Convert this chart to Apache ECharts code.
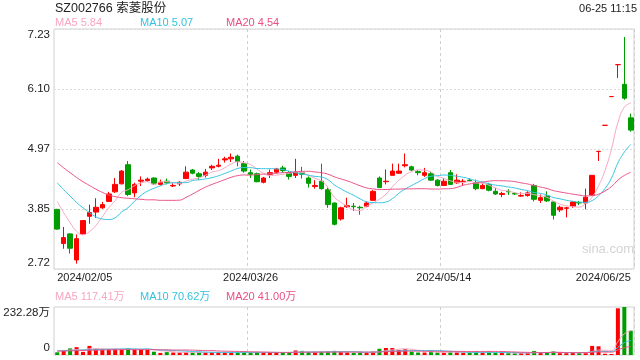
<!DOCTYPE html>
<html><head><meta charset="utf-8">
<script src="https://cdn.jsdelivr.net/npm/echarts@6/dist/echarts.min.js"></script>
<style>html,body{margin:0;padding:0;background:#fff}#c{width:640px;height:360px}</style>
</head><body><div id="c"></div>
<script>
const dates = ['02/05','02/06','02/07','02/08','02/19','02/20','02/21','02/22','02/23','02/26','02/27','02/28','02/29',
'03/01','03/04','03/05','03/06','03/07','03/08','03/11','03/12','03/13','03/14','03/15','03/18','03/19','03/20','03/21','03/22','03/25','03/26','03/27','03/28','03/29',
'04/01','04/02','04/03','04/08','04/09','04/10','04/11','04/12','04/15','04/16','04/17','04/18','04/19','04/22','04/23','04/24','04/25','04/26','04/29','04/30',
'05/06','05/07','05/08','05/09','05/10','05/13','05/14','05/15','05/16','05/17','05/20','05/21','05/22','05/23','05/24','05/27','05/28','05/29','05/30','05/31',
'06/03','06/04','06/05','06/06','06/07','06/11','06/12','06/13','06/14','06/17','06/18','06/19','06/20','06/21','06/24','06/25'];
const opens  = [3.84,3.20,3.38,2.89,3.38,3.71,3.79,3.87,3.99,4.17,4.32,4.68,4.15,4.37,4.38,4.43,4.31,4.37,4.28,4.32,
4.42,4.58,4.51,4.48,4.62,4.65,4.77,4.79,4.84,4.70,4.53,4.51,4.35,4.50,4.54,4.62,4.53,4.48,4.53,4.43,
4.27,4.37,4.21,3.96,3.66,3.89,3.90,3.88,3.90,4.01,4.43,4.36,4.48,4.52,4.66,4.64,4.55,4.48,4.51,4.39,
4.29,4.53,4.34,4.36,4.39,4.34,4.23,4.31,4.18,4.12,4.18,4.14,4.09,4.10,4.29,4.01,4.09,3.98,3.83,3.86,
3.90,3.97,3.96,4.11,4.93,5.42,5.96,6.56,6.19,5.56];
const closes = [3.47,3.31,3.11,3.29,3.63,3.78,3.88,3.93,4.13,4.31,4.56,4.12,4.31,4.39,4.41,4.32,4.35,4.34,4.29,4.35,
4.54,4.52,4.46,4.54,4.65,4.67,4.79,4.82,4.74,4.56,4.50,4.36,4.43,4.53,4.60,4.57,4.46,4.54,4.50,4.33,
4.29,4.23,3.93,3.56,3.87,3.91,3.89,3.87,3.96,4.18,4.25,4.37,4.56,4.56,4.68,4.58,4.53,4.53,4.39,4.29,
4.37,4.31,4.39,4.37,4.38,4.23,4.29,4.20,4.13,4.14,4.17,4.13,4.10,4.15,4.03,4.06,4.00,3.73,3.88,3.87,
3.98,3.96,4.07,4.48,4.93,5.42,5.96,6.56,5.93,5.33];
const lows   = [3.46,3.10,3.01,2.82,3.36,3.57,3.68,3.85,3.98,4.15,4.31,4.09,4.07,4.28,4.36,4.30,4.29,4.31,4.26,4.28,
4.41,4.50,4.39,4.44,4.58,4.63,4.72,4.73,4.65,4.53,4.43,4.35,4.33,4.43,4.52,4.53,4.40,4.43,4.42,4.25,
4.23,4.21,3.87,3.54,3.63,3.87,3.81,3.74,3.88,4.00,4.24,4.31,4.48,4.51,4.63,4.56,4.48,4.45,4.38,4.27,
4.28,4.30,4.32,4.30,4.36,4.20,4.22,4.18,4.11,4.07,4.11,4.11,4.08,4.08,3.99,3.96,3.98,3.65,3.79,3.69,
3.87,3.92,3.84,4.10,4.75,5.42,5.96,6.31,5.90,5.30];
const highs  = [3.85,3.51,3.39,3.37,3.64,3.93,4.05,3.98,4.17,4.43,4.58,4.75,4.34,4.46,4.44,4.44,4.40,4.42,4.33,4.37,
4.65,4.60,4.54,4.60,4.68,4.79,4.83,4.89,4.87,4.75,4.59,4.53,4.45,4.59,4.62,4.66,4.56,4.79,4.64,4.46,
4.39,4.70,4.25,3.97,3.89,4.06,3.96,3.91,3.99,4.20,4.46,4.59,4.70,4.70,4.89,4.66,4.58,4.62,4.55,4.41,
4.43,4.58,4.50,4.41,4.42,4.40,4.33,4.34,4.24,4.17,4.22,4.16,4.16,4.18,4.32,4.12,4.18,3.99,3.91,3.89,
3.99,4.00,4.23,4.48,4.93,5.42,5.96,6.56,7.08,5.64];
// volume, in 万 shares
const volumes = [13,24,32,38,15,44,30,27,28,28,27,32,26,27,26,16,10,14,12,12,
14,12,13,12,12,13,12,12,13,14,12,14,12,12,12,11,12,22,20,14,
12,16,18,20,14,12,10,12,10,16,30,34,34,24,28,16,12,12,14,12,
11,16,14,11,12,14,12,13,11,10,9,8,9,10,19,11,12,18,9,8.8,
10,9,14,44,42.15,6,5,226,232.28,117.77];
// moving-average values before a full window exists
const ma5Early  = [3.99,3.78,3.59,3.43];
const ma10Early = [4.34,4.21,4.09,3.97,3.87,3.78,3.70,3.66,3.65];
const ma20Early = [4.72,4.62,4.53,4.44,4.36,4.29,4.22,4.16,4.11,4.08,4.06,4.05,4.04,4.03,4.02,4.02,4.01,4.01,4.01];
const volMa5Early  = [22,22,24,26];
const volMa10Early = [20,21,22,23,24,25,26,27,28];
const volMa20Early = [18,19,20,21,22,23,23,24,25,25,26,26,26,26,26,26,25,25,24];
const priceTicks = ['2.72','3.85','4.97','6.10','7.23'];
const volTicks = ['0','232.28万'];
const xLabelIdx = [0,30,60,89];
const xSplitIdx = [30,60];
const legendPrice = ['MA5 5.84','MA10 5.07','MA20 4.54'];
const legendVol = ['MA5 117.41万','MA10 70.62万','MA20 41.00万'];

const RED = '#ff0000', GREEN = '#009d00';
const C5 = '#f7a6c2', C10 = '#33c3e0', C20 = '#ea4f85';
const FONT = "Arial, 'Liberation Sans', 'Noto Sans CJK SC', sans-serif";

function ma(arr, n, early) {
  return arr.map((_, i) => {
    if (i < n - 1) return early[i];
    let s = 0; for (let k = i - n + 1; k <= i; k++) s += arr[k];
    return +(s / n).toFixed(3);
  });
}
const kData = opens.map((o, i) => [o, closes[i], lows[i], highs[i]]);
const volData = volumes.map((v, i) => {
  const up = closes[i] > opens[i] || (closes[i] === opens[i] && (i === 0 || closes[i] >= closes[i - 1]));
  return { value: v, itemStyle: { color: up ? RED : GREEN } };
});

const chart = echarts.init(document.getElementById('c'), null, { renderer: 'canvas' });
const lineS = (name, data, color, xi, yi) => ({
  name, type: 'line', data, xAxisIndex: xi, yAxisIndex: yi, smooth: true, showSymbol: false, symbol: 'none',
  lineStyle: { width: 1, color }, z: 3, silent: true, animation: false
});
const xCommon = {
  type: 'category', data: dates, boundaryGap: true,
  axisLine: { show: false }, axisTick: { show: false },
  splitLine: { show: true, interval: (i) => xSplitIdx.includes(i), lineStyle: { type: [3, 3], color: '#cfcfcf' } }
};
chart.setOption({
  animation: false,
  textStyle: { fontFamily: FONT },
  grid: [
    { left: 54, top: 29, width: 580, height: 240, show: true, borderColor: '#d0d0d0', borderWidth: 1, backgroundColor: 'transparent', containLabel: false, outerBoundsMode: 'none' },
    { left: 54, top: 307, width: 580, height: 48, show: true, borderColor: '#d0d0d0', borderWidth: 1, backgroundColor: 'transparent', containLabel: false, outerBoundsMode: 'none' }
  ],
  xAxis: [
    Object.assign({}, xCommon, { gridIndex: 0,
      axisLabel: { show: true, interval: (i) => xLabelIdx.includes(i), formatter: (v) => '2024/' + v,
        fontSize: 11, color: '#222', margin: 3, fontFamily: FONT, alignMinLabel: 'left', alignMaxLabel: 'right' } }),
    Object.assign({}, xCommon, { gridIndex: 1, axisLabel: { show: false } })
  ],
  yAxis: [
    { gridIndex: 0, type: 'value', min: 2.72, max: 7.23, position: 'left', axisLabel: { show: false }, splitLine: { show: false }, axisLine: { show: false }, axisTick: { show: false } },
    { gridIndex: 0, type: 'value', min: 0, max: 4, interval: 1, position: 'left', axisLine: { show: false }, axisTick: { show: false },
      splitLine: { show: true, lineStyle: { type: [2, 2], color: '#dcdcdc' } },
      axisLabel: { margin: 4, color: '#222', fontSize: 11.5, fontFamily: FONT,
        formatter: (v) => v === 4 ? '{t|' + priceTicks[v] + '}' : v === 0 ? '{b|' + priceTicks[v] + '}' : priceTicks[v],
        rich: { t: { padding: [11, 0, 0, 0], fontSize: 11.5, color: '#222', fontFamily: FONT },
                b: { padding: [0, 0, 12, 0], fontSize: 11.5, color: '#222', fontFamily: FONT } } } },
    { gridIndex: 1, type: 'value', min: 0, max: 232.28, interval: 232.28, position: 'left', axisLine: { show: false }, axisTick: { show: false },
      splitLine: { show: false },
      axisLabel: { margin: 4, color: '#222', fontSize: 11.5, fontFamily: FONT,
        formatter: (v) => v === 0 ? '{b|' + volTicks[0] + '}' : '{t|' + volTicks[1] + '}',
        rich: { t: { padding: [11, 0, 0, 0], fontSize: 11.5, color: '#222', fontFamily: FONT },
                b: { padding: [0, 0, 14, 0], fontSize: 11.5, color: '#222', fontFamily: FONT } } } }
  ],
  series: [
    { type: 'candlestick', data: kData, xAxisIndex: 0, yAxisIndex: 0, barWidth: 5, z: 2,
      itemStyle: { color: RED, color0: GREEN, borderColor: RED, borderColor0: GREEN, borderColorDoji: RED, borderWidth: 1 } },
    lineS('MA5', ma(closes, 5, ma5Early), C5, 0, 0),
    lineS('MA10', ma(closes, 10, ma10Early), C10, 0, 0),
    lineS('MA20', ma(closes, 20, ma20Early), C20, 0, 0),
    { type: 'bar', data: volData, xAxisIndex: 1, yAxisIndex: 2, barWidth: 4, z: 2 },
    lineS('VMA5', ma(volumes, 5, volMa5Early), C5, 1, 2),
    lineS('VMA10', ma(volumes, 10, volMa10Early), C10, 1, 2),
    lineS('VMA20', ma(volumes, 20, volMa20Early), C20, 1, 2)
  ],
  graphic: [
    { type: 'text', left: 55, top: 2, style: { text: 'SZ002766 索菱股份', fill: '#222', font: '12.5px ' + FONT } },
    { type: 'text', right: 3, top: 3, style: { text: '06-25 11:15', fill: '#222', font: '11px ' + FONT } },
    { type: 'text', left: 55, top: 17, style: { text: legendPrice[0], fill: C5, font: '11px ' + FONT } },
    { type: 'text', left: 140, top: 17, style: { text: legendPrice[1], fill: C10, font: '11px ' + FONT } },
    { type: 'text', left: 226, top: 17, style: { text: legendPrice[2], fill: C20, font: '11px ' + FONT } },
    { type: 'text', left: 55, top: 291, style: { text: legendVol[0], fill: C5, font: '11px ' + FONT } },
    { type: 'text', left: 140, top: 291, style: { text: legendVol[1], fill: C10, font: '11px ' + FONT } },
    { type: 'text', left: 226, top: 291, style: { text: legendVol[2], fill: C20, font: '11px ' + FONT } },
    { type: 'text', left: 582, top: 243, style: { text: 'sina.com', fill: '#d4d4d4', font: '13px ' + FONT } }
  ]
});
</script></body></html>
